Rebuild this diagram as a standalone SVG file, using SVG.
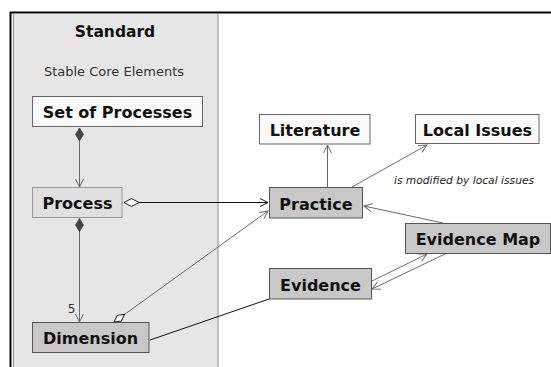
<svg xmlns="http://www.w3.org/2000/svg" width="551" height="367" viewBox="0 0 551 367">
  <style>
    text { font-family: "DejaVu Sans", Verdana, sans-serif; fill: #111; }
    .label { font-size: 16px; font-weight: bold; text-anchor: middle; }
    .plain { fill: #fafafa; stroke: #666; stroke-width: 1; }
    .light { fill: #e0e0e0; stroke: #999; stroke-width: 1; }
    .dark { fill: #c8c8c8; stroke: #555; stroke-width: 1; }
    .link { fill: none; stroke: #6a6a6a; stroke-width: 1; }
    .link-black { fill: none; stroke: #111; stroke-width: 1; }
  </style>
  <defs>
    <marker id="arrow-gray" markerUnits="userSpaceOnUse" markerWidth="10" markerHeight="10" refX="8" refY="4" orient="auto" overflow="visible">
      <path d="M0,0 L8,4 L0,8" fill="none" stroke="#6a6a6a" stroke-width="1"/>
    </marker>
    <marker id="arrow-black" markerUnits="userSpaceOnUse" markerWidth="10" markerHeight="10" refX="8" refY="4" orient="auto" overflow="visible">
      <path d="M0,0 L8,4 L0,8" fill="none" stroke="#111" stroke-width="1"/>
    </marker>
    <marker id="diamond-filled" markerUnits="userSpaceOnUse" markerWidth="14" markerHeight="9" refX="0" refY="4" orient="auto" overflow="visible">
      <path d="M0,4 L6.5,0 L13,4 L6.5,8 Z" fill="#444" stroke="#444" stroke-width="0.8"/>
    </marker>
    <marker id="diamond-open" markerUnits="userSpaceOnUse" markerWidth="16" markerHeight="9" refX="0" refY="4" orient="auto" overflow="visible">
      <path d="M0,4 L7.5,0 L15,4 L7.5,8 Z" fill="#fafafa" stroke="#222" stroke-width="1"/>
    </marker>
    <marker id="diamond-open-small" markerUnits="userSpaceOnUse" markerWidth="14" markerHeight="9" refX="0" refY="3.5" orient="auto" overflow="visible">
      <path d="M0,3.5 L6.5,0 L13,3.5 L6.5,7 Z" fill="#fafafa" stroke="#222" stroke-width="1"/>
    </marker>
  </defs>

  <!-- window frame -->
  <rect x="0" y="0" width="551" height="367" fill="#ffffff"/>
  <line x1="10" y1="12.5" x2="551" y2="12.5" stroke="#000" stroke-width="2"/>
  <line x1="10.5" y1="12" x2="10.5" y2="367" stroke="#000" stroke-width="2"/>

  <!-- Standard package -->
  <g id="standard">
    <rect x="13.5" y="13.5" width="204.5" height="360" fill="#e6e6e6" stroke="#8a8a8a" stroke-width="1"/>
    <text x="115" y="37" style="font-size:15.5px;font-weight:bold;text-anchor:middle">Standard</text>
    <text x="114" y="76" style="font-size:13px;text-anchor:middle;fill:#333">Stable Core Elements</text>
  </g>

  <!-- connectors -->
  <g id="connectors">
    <line class="link" x1="79.5" y1="128" x2="79.5" y2="187" marker-start="url(#diamond-filled)" marker-end="url(#arrow-gray)"/>
    <line class="link" x1="79.5" y1="218.5" x2="79.5" y2="322" marker-start="url(#diamond-filled)" marker-end="url(#arrow-gray)"/>
    <text x="71.5" y="313" style="font-size:12px;text-anchor:middle;fill:#333">5</text>
    <line class="link-black" x1="124" y1="202.5" x2="268" y2="202.5" marker-start="url(#diamond-open)" marker-end="url(#arrow-black)"/>
    <line class="link" x1="114" y1="322" x2="268" y2="211" marker-start="url(#diamond-open-small)" marker-end="url(#arrow-gray)"/>
    <line class="link-black" x1="150" y1="340" x2="269" y2="299"/>
    <line class="link" x1="327.5" y1="187" x2="327.5" y2="145" marker-end="url(#arrow-gray)"/>
    <line class="link" x1="352" y1="187" x2="427" y2="145" marker-end="url(#arrow-gray)"/>
    <text x="464" y="184" style="font-size:10.7px;font-style:italic;text-anchor:middle;fill:#222">is modified by local issues</text>
    <line class="link" x1="443" y1="223" x2="364" y2="206" marker-end="url(#arrow-gray)"/>
    <line class="link" x1="372" y1="281" x2="427" y2="254" marker-end="url(#arrow-gray)"/>
    <line class="link" x1="446" y1="253.5" x2="372" y2="289" marker-end="url(#arrow-gray)"/>
  </g>

  <g id="set-of-processes">
    <rect class="plain" x="32.5" y="96.5" width="170" height="30"/>
    <text class="label" x="117.5" y="118">Set of Processes</text>
  </g>
  <g id="process">
    <rect class="light" x="32.5" y="187.5" width="89.5" height="30"/>
    <text class="label" x="77.5" y="209">Process</text>
  </g>
  <g id="dimension">
    <rect class="dark" x="32.5" y="322.5" width="116.5" height="30"/>
    <text class="label" x="90.5" y="344">Dimension</text>
  </g>
  <g id="literature">
    <rect class="plain" x="259.5" y="114.5" width="110.5" height="29.5"/>
    <text class="label" x="315" y="136">Literature</text>
  </g>
  <g id="local-issues">
    <rect class="plain" x="415.5" y="114.5" width="123.5" height="29"/>
    <text class="label" x="477.5" y="136">Local Issues</text>
  </g>
  <g id="practice">
    <rect class="dark" x="269.5" y="187.5" width="93" height="30.5"/>
    <text class="label" x="316" y="209.5">Practice</text>
  </g>
  <g id="evidence">
    <rect class="dark" x="269.5" y="268.5" width="102" height="30.5"/>
    <text class="label" x="320.5" y="290.5">Evidence</text>
  </g>
  <g id="evidence-map">
    <rect class="dark" x="405.5" y="223.5" width="145" height="30"/>
    <text class="label" x="478" y="245">Evidence Map</text>
  </g>
</svg>
